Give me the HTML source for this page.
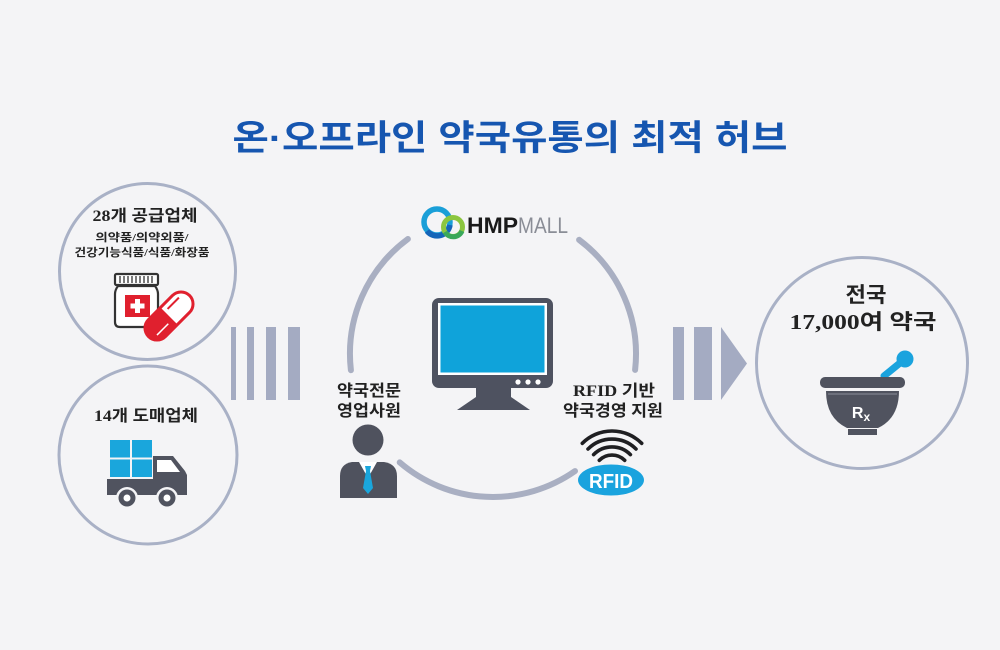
<!DOCTYPE html>
<html><head><meta charset="utf-8"><style>
html,body{margin:0;padding:0;background:#f4f4f6;}
svg{display:block;}
.t{font-family:"Liberation Serif","Noto Sans CJK KR",serif;font-weight:bold;fill:#222;}
</style></head><body>
<svg width="1000" height="650" viewBox="0 0 1000 650" xmlns="http://www.w3.org/2000/svg">
<rect width="1000" height="650" fill="#f4f4f6"/>
<!-- title -->
<text x="510" y="150" text-anchor="middle" font-family="'Liberation Sans','Noto Sans CJK KR',sans-serif" font-weight="bold" font-size="35" fill="#1656b0" textLength="555" lengthAdjust="spacingAndGlyphs">온·오프라인 약국유통의 최적 허브</text>

<!-- left circles -->
<circle cx="147.5" cy="271.5" r="88" fill="none" stroke="#a9b1c6" stroke-width="3"/>
<circle cx="148" cy="455" r="89" fill="none" stroke="#a9b1c6" stroke-width="3"/>
<text class="t" x="145" y="221" text-anchor="middle" font-size="16" textLength="105" lengthAdjust="spacingAndGlyphs">28개 공급업체</text>
<text class="t" x="142" y="241" text-anchor="middle" font-size="11" textLength="93" lengthAdjust="spacingAndGlyphs">의약품/의약외품/</text>
<text class="t" x="142" y="256" text-anchor="middle" font-size="11" textLength="135" lengthAdjust="spacingAndGlyphs">건강기능식품/식품/화장품</text>
<!-- bottle -->
<rect x="115" y="274" width="43" height="11" rx="1.5" fill="#fff" stroke="#333" stroke-width="2.2"/>
<g stroke="#333" stroke-width="1.3">
<line x1="120" y1="276" x2="120" y2="283"/><line x1="124" y1="276" x2="124" y2="283"/><line x1="128" y1="276" x2="128" y2="283"/><line x1="132" y1="276" x2="132" y2="283"/><line x1="136" y1="276" x2="136" y2="283"/><line x1="140" y1="276" x2="140" y2="283"/><line x1="144" y1="276" x2="144" y2="283"/><line x1="148" y1="276" x2="148" y2="283"/><line x1="152" y1="276" x2="152" y2="283"/>
</g>
<path d="M118,286 L155,286 Q158,290 158,294 L158,322 Q158,327 153,327 L120,327 Q115,327 115,322 L115,294 Q115,290 118,286 Z" fill="#fff" stroke="#333" stroke-width="2.2"/>
<rect x="125" y="295" width="25" height="22" fill="#e0202e"/>
<rect x="135" y="299" width="5" height="14" fill="#fff"/>
<rect x="130.5" y="303.5" width="14" height="5" fill="#fff"/>
<!-- capsule -->
<g transform="translate(169,316) rotate(-45)">
<rect x="-29" y="-12" width="58" height="24" rx="12" fill="#fff" stroke="#e0202e" stroke-width="3"/>
<path d="M0,-12 L-17,-12 A12,12 0 0 0 -17,12 L0,12 Z" fill="#e0202e"/>
<line x1="-22" y1="5" x2="-6" y2="5" stroke="#fff" stroke-width="1.5"/>
<line x1="4" y1="-6" x2="20" y2="-6" stroke="#e0202e" stroke-width="2"/>
</g>

<text class="t" x="146" y="421" text-anchor="middle" font-size="16" textLength="104" lengthAdjust="spacingAndGlyphs">14개 도매업체</text>
<!-- truck -->
<rect x="110" y="440" width="20" height="17.5" fill="#1aa6dc"/>
<rect x="132" y="440" width="20" height="17.5" fill="#1aa6dc"/>
<rect x="110" y="459.5" width="20" height="17.5" fill="#1aa6dc"/>
<rect x="132" y="459.5" width="20" height="17.5" fill="#1aa6dc"/>
<path d="M153,456 L173,456 L185,471 L187,475 L187,495 L153,495 Z" fill="#50535f"/>
<path d="M157,460 L171,460 L180,472 L157,472 Z" fill="#fff"/>
<rect x="107" y="479" width="80" height="16" fill="#50535f"/>
<circle cx="127" cy="498" r="11" fill="#f4f4f6"/>
<circle cx="167" cy="498" r="11" fill="#f4f4f6"/>
<circle cx="127" cy="498" r="8.5" fill="#50535f"/>
<circle cx="167" cy="498" r="8.5" fill="#50535f"/>
<circle cx="127" cy="498" r="3.5" fill="#fff"/>
<circle cx="167" cy="498" r="3.5" fill="#fff"/>

<!-- left bars -->
<g fill="#a4abc2">
<rect x="231" y="327" width="5" height="73"/>
<rect x="247" y="327" width="7" height="73"/>
<rect x="266" y="327" width="10" height="73"/>
<rect x="288" y="327" width="12" height="73"/>
</g>

<!-- center ring -->
<g fill="none" stroke="#a9afc2" stroke-width="6" stroke-linecap="round">
<path d="M350.9,370.2 A143,143 0 0 1 407.9,239.0"/>
<path d="M579.1,239.8 A143,143 0 0 1 635.1,369.9"/>
<path d="M575.0,471.1 A143,143 0 0 1 399.7,462.4"/>
</g>

<!-- HMP MALL logo -->
<circle cx="437" cy="222" r="13" fill="none" stroke="#1a9fd8" stroke-width="5.5"/>
<path d="M427,231 A13,13 0 0 0 450,225" fill="none" stroke="#1565b8" stroke-width="5.5"/>
<circle cx="453" cy="227" r="9.5" fill="none" stroke="#8cc63f" stroke-width="5"/>
<path d="M445,232 A9.5,9.5 0 0 0 462,231" fill="none" stroke="#3aa85a" stroke-width="5"/>
<text x="467" y="233" font-family="'Liberation Sans',sans-serif" font-weight="bold" font-size="22" fill="#1a1a1a" textLength="51" lengthAdjust="spacingAndGlyphs">HMP</text>
<text x="518" y="233" font-family="'Liberation Sans',sans-serif" font-size="22" fill="#8a8d96" textLength="50" lengthAdjust="spacingAndGlyphs">MALL</text>

<!-- monitor -->
<rect x="432" y="298" width="121" height="90" rx="7" fill="#4e5260"/>
<rect x="438" y="303" width="109" height="72" fill="#fff"/>
<rect x="440.5" y="305.5" width="104" height="67" fill="#0fa3da"/>
<circle cx="518" cy="382" r="2.6" fill="#fff"/>
<circle cx="528" cy="382" r="2.6" fill="#fff"/>
<circle cx="538" cy="382" r="2.6" fill="#fff"/>
<rect x="476" y="388" width="35" height="10" fill="#4e5260"/>
<path d="M476,397 L511,397 L530,410 L457,410 Z" fill="#4e5260"/>

<!-- person labels -->
<text class="t" x="369" y="396" text-anchor="middle" font-size="16" textLength="64" lengthAdjust="spacingAndGlyphs">약국전문</text>
<text class="t" x="369" y="416" text-anchor="middle" font-size="16" textLength="64" lengthAdjust="spacingAndGlyphs">영업사원</text>
<!-- person -->
<circle cx="368" cy="440" r="15.5" fill="#4f525e"/>
<path d="M340,498 L340,476 Q340,464 352,462 L384,462 Q397,464 397,476 L397,498 Z" fill="#4f525e"/>
<path d="M359,462 L368,478 L377,462 Z" fill="#fff"/>
<path d="M365,466 L371,466 L370,471 L373,488 L368,494 L363,488 L366,471 Z" fill="#1aa6dc"/>

<!-- RFID labels -->
<text class="t" x="614" y="396" text-anchor="middle" font-size="16" textLength="82" lengthAdjust="spacingAndGlyphs">RFID 기반</text>
<text class="t" x="613" y="416" text-anchor="middle" font-size="16" textLength="100" lengthAdjust="spacingAndGlyphs">약국경영 지원</text>
<!-- RFID waves -->
<g fill="none" stroke="#1f1f22" stroke-width="3.6" stroke-linecap="round">
<path d="M599.3,460.3 A18,18 0 0 1 624.7,460.3"/>
<path d="M593.6,454.6 A26,26 0 0 1 630.4,454.6"/>
<path d="M588.0,449.0 A34,34 0 0 1 636.0,449.0"/>
<path d="M582.3,443.3 A42,42 0 0 1 641.7,443.3"/>
</g>
<ellipse cx="611" cy="480" rx="33" ry="15.5" fill="#1aa3de"/>
<text x="611" y="488" text-anchor="middle" font-family="'Liberation Sans',sans-serif" font-weight="bold" font-size="20" fill="#fff" textLength="44" lengthAdjust="spacingAndGlyphs">RFID</text>

<!-- right arrow -->
<g fill="#a4abc2">
<rect x="673" y="327" width="11" height="73"/>
<rect x="694" y="327" width="18" height="73"/>
<path d="M721,327 L747,363.5 L721,400 Z"/>
</g>

<!-- right circle -->
<circle cx="862" cy="363" r="105.5" fill="none" stroke="#a9b1c6" stroke-width="3"/>
<text class="t" x="866" y="302" text-anchor="middle" font-size="21" textLength="41" lengthAdjust="spacingAndGlyphs">전국</text>
<text class="t" x="863" y="329" text-anchor="middle" font-size="21" textLength="147" lengthAdjust="spacingAndGlyphs">17,000여 약국</text>
<!-- mortar -->
<line x1="884" y1="376" x2="900" y2="363" stroke="#1aa3de" stroke-width="7" stroke-linecap="round"/>
<circle cx="905" cy="359" r="8.5" fill="#1aa3de"/>
<rect x="820" y="377" width="85" height="11" rx="5" fill="#50535f"/>
<path d="M826,391 L899,391 Q899,418 878,428 L847,428 Q826,418 826,391 Z" fill="#50535f"/>
<line x1="828" y1="394" x2="897" y2="394" stroke="#8a8d98" stroke-width="1"/>
<rect x="848" y="429" width="29" height="6" fill="#50535f"/>
<text x="861" y="418" text-anchor="middle" font-family="'Liberation Sans',sans-serif" font-weight="bold" font-size="16" fill="#fff">R<tspan font-size="12" dy="3">x</tspan></text>
</svg>
</body></html>
